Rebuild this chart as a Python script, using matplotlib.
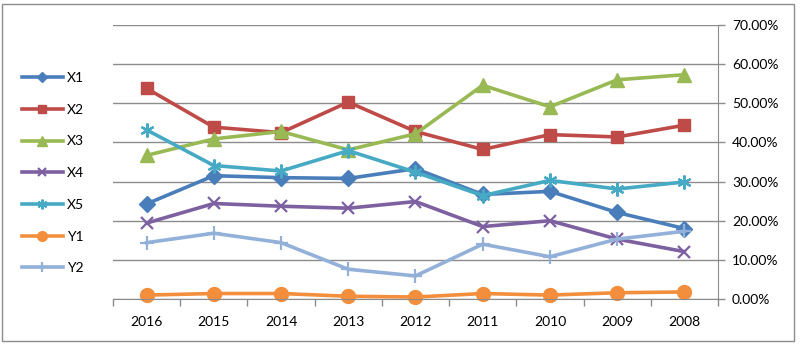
import matplotlib
matplotlib.use("Agg")
import matplotlib.pyplot as plt
from matplotlib.patches import Rectangle
from matplotlib.ticker import FixedLocator, FuncFormatter

plt.rcParams['font.family'] = ['Lato', 'DejaVu Sans']

years = ['2016', '2015', '2014', '2013', '2012', '2011', '2010', '2009', '2008']

x1 = [24.3, 31.5, 31.0, 30.8, 33.3, 26.7, 27.5, 22.1, 18.0]
x2 = [53.8, 43.9, 42.5, 50.3, 42.8, 38.2, 42.0, 41.4, 44.4]
x3 = [36.7, 40.9, 42.8, 38.1, 42.2, 54.6, 49.1, 56.0, 57.3]
x4 = [19.4, 24.4, 23.7, 23.2, 24.9, 18.5, 20.0, 15.3, 12.1]
x5 = [43.2, 34.1, 32.7, 37.9, 32.4, 26.4, 30.3, 28.1, 29.9]
y1 = [1.0, 1.4, 1.4, 0.7, 0.5, 1.4, 1.0, 1.6, 1.8]
y2 = [14.4, 16.8, 14.4, 7.6, 5.9, 14.0, 10.8, 15.3, 17.3]

series = [
    ('X1', x1, '#4A7EBB', 'D', 8),
    ('X2', x2, '#BE4B48', 's', 9),
    ('X3', x3, '#98B954', '^', 10),
    ('X4', x4, '#7D60A0', 'x', 9),
    ('X5', x5, '#46AAC5', (6, 2, 0), 10),
    ('Y1', y1, '#F38E3C', 'o', 10),
    ('Y2', y2, '#93B1D8', '+', 10),
]

fig = plt.figure(figsize=(8.09, 3.46), dpi=100)
ax = fig.add_axes([113 / 809, 1 - 299 / 346, (718 - 113) / 809, (299 - 25) / 346])

pos = list(range(len(years)))
for name, vals, color, marker, ms in series:
    ax.plot(pos, vals, color=color, lw=2.6, marker=marker, markersize=ms,
            markeredgewidth=1.6 if marker in ('x', '+', (6, 2, 0)) else 1,
            markerfacecolor=color, markeredgecolor=color, label=name,
            solid_joinstyle='round', clip_on=False)

ax.set_xlim(-0.5, len(years) - 0.5)
ax.set_ylim(0, 70)

# category labels, tick marks between categories
ax.set_xticks(pos)
ax.set_xticklabels(years, fontsize=10)
ax.tick_params(axis='x', which='major', length=0, pad=12)
ax.xaxis.set_minor_locator(FixedLocator([p - 0.5 for p in range(len(years) + 1)]))
ax.tick_params(axis='x', which='minor', length=5, color='#8C8C8C', width=1)

ax.yaxis.tick_right()
ax.set_yticks(range(0, 71, 10))
ax.yaxis.set_major_formatter(FuncFormatter(lambda v, _: f'{v:.2f}%'))
ax.tick_params(axis='y', length=5, color='#8C8C8C', width=1, labelsize=10, pad=5)

ax.grid(axis='y', color='#8C8C8C', lw=1)
ax.set_axisbelow(True)
for side in ('top', 'left'):
    ax.spines[side].set_visible(False)
ax.spines['right'].set_color('#8C8C8C')
ax.spines['bottom'].set_color('#8C8C8C')

fig.legend(loc='upper left', bbox_to_anchor=(22 / 809, 1 - 72 / 346),
           frameon=False, fontsize=10, handlelength=2.95, handletextpad=0.3,
           labelspacing=1.42, borderpad=0, borderaxespad=0, markerscale=0.7)

fig.patches.append(Rectangle((2 / 809, 1 - 341 / 346), 792 / 809, 337 / 346,
                             transform=fig.transFigure, fill=False,
                             edgecolor='#8C8C8C', lw=1))

fig.savefig('out.png', dpi=100)
